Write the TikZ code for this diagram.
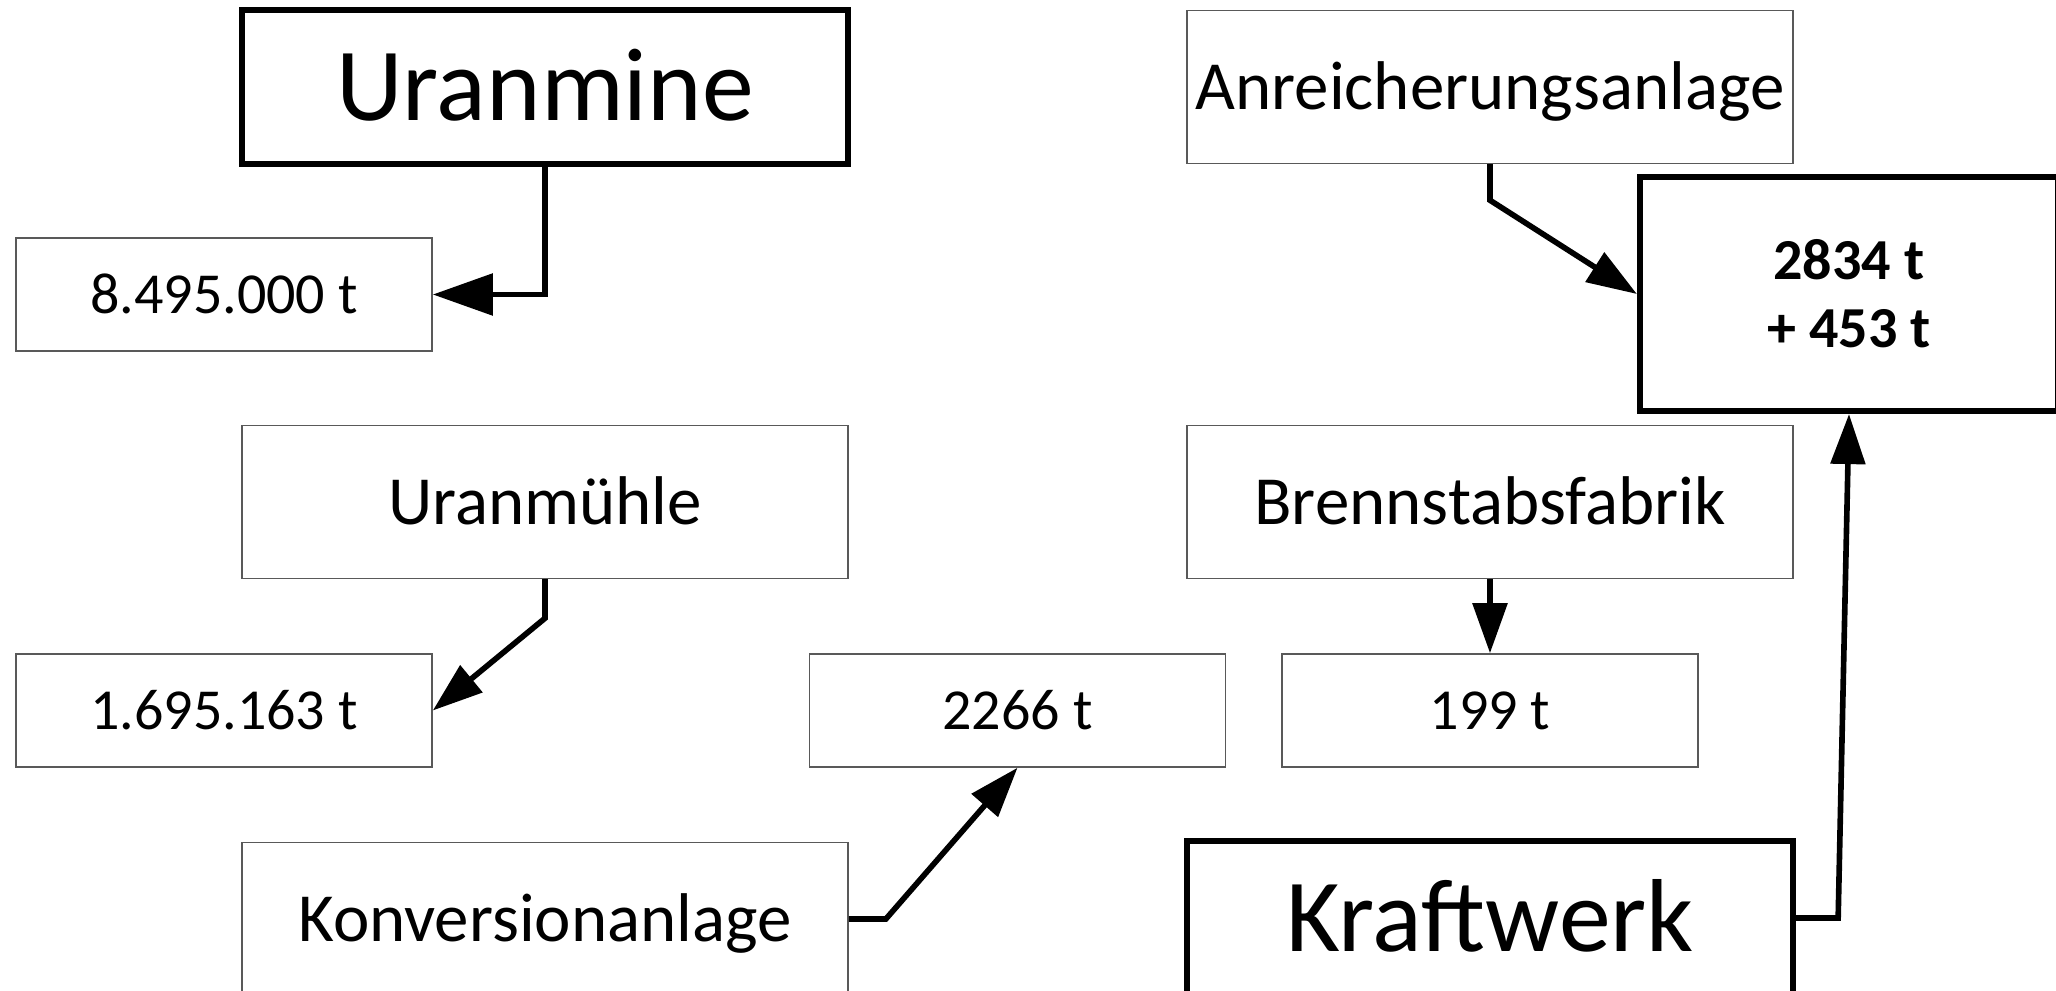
\documentclass[tikz,border=0pt]{standalone}
\usepackage{fontspec}
\setmainfont{Carlito}
\usetikzlibrary{arrows.meta}

\tikzset{
	stage/.style={draw=black!65, line width=0.4pt, inner sep=0pt,
		minimum width=6.06cm, minimum height=1.53cm,
		text height=14pt, text depth=1.2pt,
		font=\fontsize{19.6}{23}\selectfont},
	mainstage/.style={stage, draw=black, line width=1.7pt,
		text height=21pt, text depth=1.8pt,
		font=\fontsize{29.5}{34}\selectfont},
	amount/.style={draw=black!65, line width=0.4pt, inner sep=0pt,
		minimum width=4.16cm, minimum height=1.13cm,
		text height=12pt, text depth=1.2pt,
		font=\fontsize{16.5}{19.4}\selectfont},
	flow/.style={line width=1.6pt, -{Triangle[length=0.5cm,width=0.34cm]}}
}

\begin{document}
\begin{tikzpicture}[x=0.01cm, y=-0.01cm]
	\useasboundingbox (0,0) rectangle (2056,991);

	% left column
	\node [mainstage] (mine) at (545,87) {Uranmine};
	\node [amount] (ore) at (224,294.5) {8.495.000 t};
	\node [stage] (mill) at (545,502) {Uranmühle};
	\node [amount] (yellowcake) at (224,710.5) {1.695.163 t};
	\node [stage] (conv) at (545,919) {Konversionanlage};
	\node [amount] (hex) at (1017.5,710.5) {2266 t};

	% right column
	\node [stage] (enrich) at (1490,87) {Anreicherungsanlage};
	\node [draw, line width=1.7pt, inner sep=0pt, minimum width=4.18cm,
		minimum height=2.34cm, align=center,
		font=\fontsize{16.5}{19.4}\selectfont\bfseries] (waste) at (1849,294)
		{2834 t\\+ 453 t};
	\node [stage] (fab) at (1490,502) {Brennstabsfabrik};
	\node [amount] (rods) at (1490,710.5) {199 t};
	\node [mainstage] (plant) at (1490,918) {Kraftwerk};

	\draw [flow, -{Triangle[length=0.6cm,width=0.41cm]}] (mine.south) |- (ore.east);
	\draw [flow] (mill.south) -- ++(0,39) -- (yellowcake.east);
	\draw [flow] (conv.east) -- ++(37,0) -- (hex.south);
	\draw [flow] (enrich.south) -- ++(0,36) -- (waste.west);
	\draw [flow] (fab.south) -- (rods.north);
	\draw [flow] (plant.east) -- ++(42,0) -- (waste.south);
\end{tikzpicture}
\end{document}
